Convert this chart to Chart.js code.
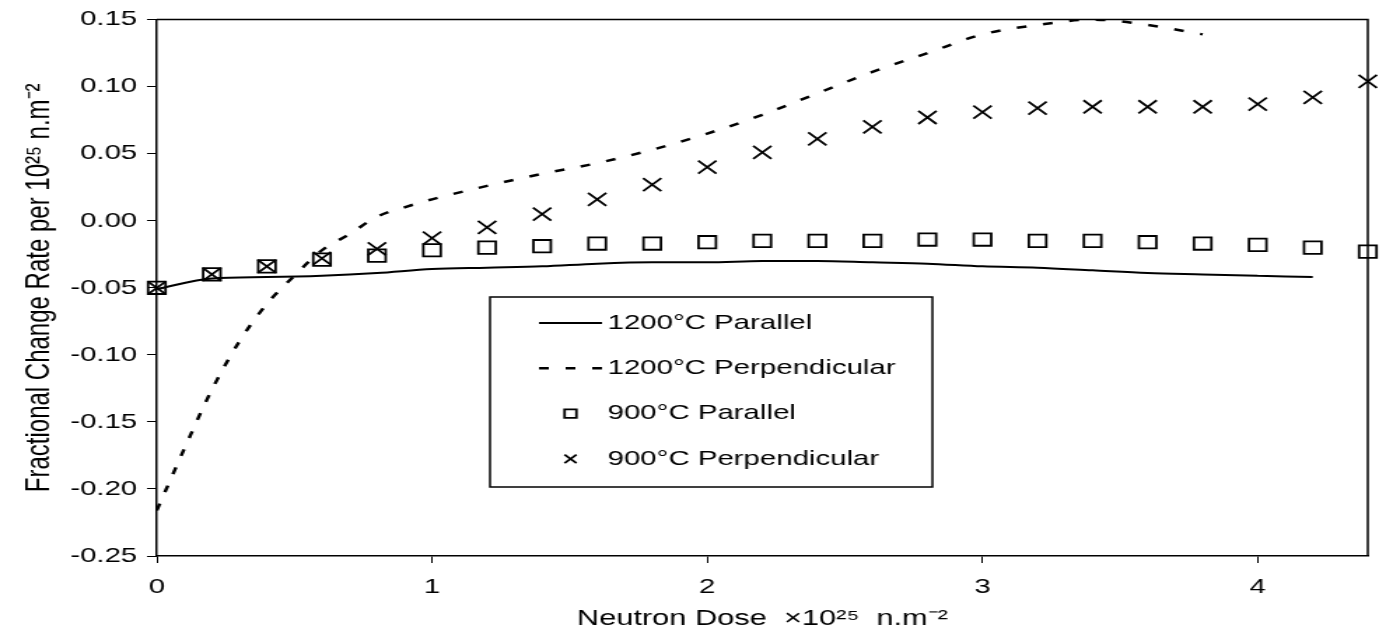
<!DOCTYPE html>
<html>
<head>
<meta charset="utf-8">
<script src="https://cdn.jsdelivr.net/npm/chart.js@4.4.0/dist/chart.umd.min.js"></script>
<style>
  html, body { margin: 0; padding: 0; background: #fff; overflow: hidden; }
  /* the original figure is stretched sideways, so the chart is drawn narrower and widened */
  #wrap { width: 988px; height: 638px; transform: scaleX(1.4); transform-origin: 0 0; }
</style>
</head>
<body>
<div id="wrap"><canvas id="myChart"></canvas></div>
<script>
// Data

var xTicks = [0, 1, 2, 3, 4];
var yTicks = [-0.25, -0.20, -0.15, -0.10, -0.05, 0.00, 0.05, 0.10, 0.15];

var dose1200Par = [0, 0.2, 0.4, 0.6, 0.8, 1.0, 1.2, 1.4, 1.6, 1.8, 2.0, 2.2, 2.4, 2.6, 2.8, 3.0, 3.2, 3.4, 3.6, 3.8, 4.0, 4.2];
var rate1200Par = [-0.051, -0.043, -0.042, -0.041, -0.039, -0.036, -0.035, -0.034, -0.032, -0.031, -0.031, -0.030, -0.030, -0.031, -0.032, -0.034, -0.035, -0.037, -0.039, -0.040, -0.041, -0.042];

var dose1200Perp = [0, 0.1, 0.2, 0.3, 0.4, 0.5, 0.6, 0.7, 0.8, 0.9, 1.0, 1.2, 1.4, 1.6, 1.8, 2.0, 2.2, 2.4, 2.6, 2.8, 3.0, 3.2, 3.4, 3.6, 3.8];
var rate1200Perp = [-0.216, -0.170, -0.126, -0.090, -0.062, -0.041, -0.022, -0.010, 0.003, 0.010, 0.016, 0.026, 0.035, 0.043, 0.053, 0.065, 0.079, 0.095, 0.111, 0.125, 0.139, 0.146, 0.150, 0.146, 0.139];

var dose900 = [0, 0.2, 0.4, 0.6, 0.8, 1.0, 1.2, 1.4, 1.6, 1.8, 2.0, 2.2, 2.4, 2.6, 2.8, 3.0, 3.2, 3.4, 3.6, 3.8, 4.0, 4.2, 4.4];
var rate900Par = [-0.050, -0.040, -0.034, -0.029, -0.026, -0.022, -0.020, -0.019, -0.017, -0.017, -0.016, -0.015, -0.015, -0.015, -0.014, -0.014, -0.015, -0.015, -0.016, -0.017, -0.018, -0.020, -0.023];
var rate900Perp = [-0.050, -0.040, -0.034, -0.028, -0.021, -0.013, -0.005, 0.005, 0.016, 0.027, 0.040, 0.051, 0.061, 0.070, 0.077, 0.081, 0.084, 0.085, 0.085, 0.085, 0.087, 0.092, 0.104];

function toPoints(xs, ys) {
  return xs.map(function (x, i) { return { x: x, y: ys[i] }; });
}

Chart.defaults.font.family = '"Liberation Sans", Arial, sans-serif';
Chart.defaults.color = '#000';

// frame on top and right of the plot area
var frame = {
  id: 'frame',
  beforeDatasetsDraw: function (chart) {
    var a = chart.chartArea;
    var ctx = chart.ctx;
    ctx.save();
    ctx.strokeStyle = '#000';
    ctx.lineWidth = 1.5;
    ctx.beginPath();
    ctx.moveTo(a.left, a.top);
    ctx.lineTo(a.right, a.top);
    ctx.lineTo(a.right, a.bottom);
    ctx.stroke();
    ctx.restore();
  }
};

// boxed legend inside the plot
var boxLegend = {
  id: 'boxLegend',
  afterDraw: function (chart, args, o) {
    var ctx = chart.ctx;
    ctx.save();
    ctx.fillStyle = '#fff';
    ctx.fillRect(o.left, o.top, o.width, o.height);
    ctx.strokeStyle = '#000';
    ctx.lineWidth = 1.5;
    ctx.strokeRect(o.left, o.top, o.width, o.height);
    ctx.font = o.fontSize + 'px "Liberation Sans", Arial, sans-serif';
    ctx.textBaseline = 'middle';
    chart.data.datasets.forEach(function (ds, i) {
      var y = o.top + o.firstRow + i * o.rowGap;
      ctx.strokeStyle = ds.borderColor;
      ctx.fillStyle = '#fff';
      ctx.lineWidth = ds.borderWidth;
      if (ds.showLine) {
        ctx.setLineDash(ds.borderDash || []);
        ctx.beginPath();
        ctx.moveTo(o.sampleX, y);
        ctx.lineTo(o.sampleX + o.sampleW, y);
        ctx.stroke();
        ctx.setLineDash([]);
      } else {
        Chart.helpers.drawPoint(ctx, { pointStyle: ds.pointStyle, radius: o.markerRadius, borderWidth: ds.borderWidth, rotation: 0 }, o.sampleX + o.sampleW / 2, y);
      }
      ctx.fillStyle = '#000';
      ctx.fillText(ds.label, o.textX, y);
    });
    ctx.restore();
  }
};

var ctx = document.getElementById('myChart').getContext('2d');

var myChart = new Chart(ctx, {
  type: 'scatter',
  data: {
    datasets: [
      {
        label: '1200°C Parallel',
        data: toPoints(dose1200Par, rate1200Par),
        showLine: true,
        borderColor: '#000',
        borderWidth: 2,
        pointRadius: 0,
        cubicInterpolationMode: 'monotone'
      },
      {
        label: '1200°C Perpendicular',
        data: toPoints(dose1200Perp, rate1200Perp),
        showLine: true,
        borderColor: '#000',
        borderWidth: 2.5,
        borderDash: [7, 12],
        pointRadius: 0,
        cubicInterpolationMode: 'monotone'
      },
      {
        label: '900°C Parallel',
        data: toPoints(dose900, rate900Par),
        showLine: false,
        pointStyle: 'rect',
        pointRadius: 8.8,
        borderColor: '#000',
        backgroundColor: 'rgba(255,255,255,0)',
        borderWidth: 1.8,
        clip: false
      },
      {
        label: '900°C Perpendicular',
        data: toPoints(dose900, rate900Perp),
        showLine: false,
        pointStyle: 'crossRot',
        pointRadius: 9.2,
        borderColor: '#000',
        borderWidth: 1.8,
        clip: false
      }
    ]
  },
  options: {
    responsive: true,
    maintainAspectRatio: false,
    animation: false,
    layout: { padding: { top: 19, left: 10, right: 5, bottom: 0 } },
    plugins: {
      legend: { display: false },
      tooltip: { enabled: false },
      boxLegend: {
        left: 350, top: 297, width: 316, height: 190,
        firstRow: 26, rowGap: 45.3,
        sampleX: 385, sampleW: 45, textX: 434,
        markerRadius: 6, fontSize: 21
      }
    },
    scales: {
      x: {
        type: 'linear',
        min: 0,
        max: 4.4,
        afterBuildTicks: function (scale) {
          scale.ticks = xTicks.map(function (v) { return { value: v }; });
        },
        afterFit: function (scale) { scale.height = 82; },
        ticks: { font: { size: 21 }, padding: 12, color: '#000' },
        grid: { drawOnChartArea: false, tickLength: 7, tickColor: '#000' },
        border: { color: '#000', width: 1.5 },
        title: {
          display: true,
          text: 'Neutron Dose  ×10²⁵  n.m⁻²',
          font: { size: 22 },
          padding: { top: 4, bottom: 6 }
        }
      },
      y: {
        min: -0.25,
        max: 0.15,
        afterBuildTicks: function (scale) {
          scale.ticks = yTicks.map(function (v) { return { value: v }; });
        },
        afterFit: function (scale) { scale.width = 102; },
        ticks: {
          font: { size: 21 },
          padding: 7,
          color: '#000',
          callback: function (v) { return v.toFixed(2); }
        },
        grid: { drawOnChartArea: false, tickLength: 7, tickColor: '#000' },
        border: { color: '#000', width: 1.5 },
        title: {
          display: true,
          text: 'Fractional Change Rate per 10²⁵ n.m⁻²',
          font: { size: 24 },
          padding: { top: 4, bottom: 4 }
        }
      }
    }
  },
  plugins: [frame, boxLegend]
});
</script>
</body>
</html>
